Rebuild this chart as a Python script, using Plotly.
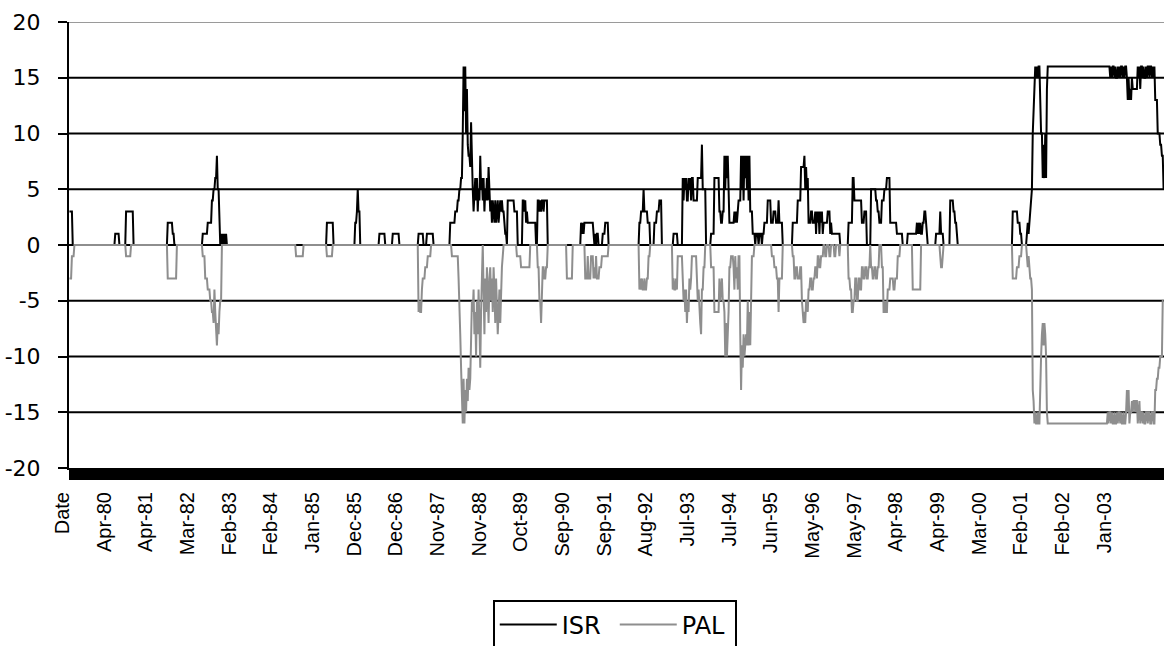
import plotly.graph_objects as go

# Category axis: header cell followed by weekly observations
TICK_LABELS = [
    "Date", "Apr-80", "Apr-81", "Mar-82", "Feb-83", "Feb-84", "Jan-85", "Dec-85",
    "Dec-86", "Nov-87", "Nov-88", "Oct-89", "Sep-90", "Sep-91", "Aug-92", "Jul-93",
    "Jul-94", "Jun-95", "May-96", "May-97", "Apr-98", "Apr-99", "Mar-00", "Feb-01",
    "Feb-02", "Jan-03",
]
LABEL_STEP = 50          # one axis label every 50 weeks
N_WEEKS = 1314           # number of weekly categories

Y_TICKS = [-20, -15, -10, -5, 0, 5, 10, 15, 20]
Y_TICK_LABELS = ["-20", "-15", "-10", "-5", "0", "5", "10", "15", "20"]

# Weekly series stored as (week index, new value) change points
ISR_CHANGES = [
    (0, 3), (4, 0),
    (55, 1), (60, 0),
    (68, 3), (77, 0),
    (118, 2), (124, 1), (126, 0),
    (160, 1), (166, 2), (171, 4), (173, 5), (175, 6), (177, 8), (178, 5), (180, 1), (181, 0),
    (182, 1), (183, 0), (184, 1), (185, 0), (186, 1), (187, 0), (188, 1), (189, 0),
    (309, 2), (317, 0),
    (343, 2), (345, 3), (346, 5), (347, 3), (349, 0),
    (372, 1), (379, 0),
    (388, 1), (396, 0),
    (419, 1), (425, 0), (429, 1), (437, 0),
    (457, 2), (463, 3), (466, 4), (468, 5), (470, 6), (472, 10), (473, 16), (474, 12),
    (475, 16), (476, 10), (477, 14), (478, 9), (479, 8), (481, 7), (482, 11), (483, 7),
    (484, 5), (485, 3), (486, 5), (487, 6), (488, 4), (489, 6), (490, 3), (491, 5),
    (492, 4), (493, 8), (494, 5), (495, 6), (496, 4), (497, 6), (498, 3), (499, 5),
    (500, 4), (501, 6), (502, 4), (503, 7), (504, 5), (505, 3), (506, 4), (507, 2),
    (508, 4), (509, 3), (510, 2), (511, 4), (512, 2), (513, 3), (514, 4), (515, 2),
    (516, 3), (517, 4), (518, 3), (519, 4), (520, 3), (522, 2), (523, 1), (525, 0),
    (526, 4), (534, 3), (538, 0),
    (544, 4), (546, 3), (547, 4), (548, 2), (549, 3), (550, 2), (560, 0),
    (562, 4), (564, 3), (565, 4), (566, 3), (567, 4), (569, 3), (570, 4), (574, 0),
    (614, 2), (615, 1), (616, 2), (617, 1), (618, 2), (629, 1), (630, 0), (631, 1),
    (632, 0), (633, 1), (635, 0),
    (640, 1), (643, 2), (647, 0),
    (684, 2), (686, 3), (689, 5), (690, 3), (694, 2), (697, 0),
    (702, 2), (705, 3), (708, 4), (711, 0),
    (725, 1), (730, 0),
    (736, 6), (737, 4), (738, 6), (739, 5), (740, 6), (741, 4), (743, 6), (744, 5),
    (745, 6), (746, 4), (747, 6), (749, 4), (754, 6), (759, 9), (760, 5), (764, 0),
    (770, 1), (774, 6), (780, 3), (782, 2), (784, 3), (786, 8), (787, 5), (788, 8),
    (789, 6), (790, 8), (791, 5), (792, 2), (798, 3), (799, 2), (800, 3), (801, 2),
    (802, 3), (803, 4), (806, 8), (807, 5), (808, 8), (809, 4), (810, 8), (811, 6),
    (812, 8), (813, 5), (814, 8), (815, 4), (816, 8), (817, 3), (820, 1), (823, 0),
    (824, 1), (827, 0), (828, 1), (831, 0), (832, 1), (834, 2), (838, 4), (842, 2),
    (845, 3), (848, 2), (851, 4), (852, 2), (856, 0),
    (868, 2), (874, 4), (878, 7), (882, 8), (883, 5), (884, 7), (885, 5), (886, 6),
    (887, 2), (890, 3), (892, 2), (895, 3), (896, 1), (897, 3), (898, 2), (899, 3),
    (900, 1), (901, 3), (902, 2), (903, 3), (904, 1), (905, 2), (910, 3), (913, 1),
    (914, 2), (915, 1), (925, 0),
    (935, 2), (940, 6), (942, 4), (951, 2), (954, 3), (957, 0),
    (962, 5), (968, 4), (970, 3), (972, 2), (975, 4), (978, 5), (981, 6), (985, 2),
    (993, 1), (1000, 0),
    (1006, 1), (1017, 2), (1018, 1), (1019, 2), (1020, 1), (1021, 2), (1022, 1),
    (1024, 2), (1026, 3), (1028, 2), (1029, 1), (1030, 0),
    (1040, 1), (1045, 3), (1046, 1), (1049, 0),
    (1057, 4), (1061, 3), (1063, 2), (1065, 1), (1066, 0),
    (1132, 3), (1138, 2), (1141, 1), (1143, 0),
    (1149, 1), (1150, 2), (1151, 1), (1152, 2), (1153, 3), (1154, 4), (1155, 5),
    (1156, 10), (1157, 13), (1158, 14), (1159, 16), (1160, 15), (1161, 16), (1162, 15),
    (1163, 16), (1165, 13), (1166, 10), (1168, 6), (1169, 9), (1170, 6), (1171, 10),
    (1172, 6), (1173, 14), (1174, 16),
    (1249, 15), (1250, 16), (1251, 15), (1252, 16), (1254, 15), (1255, 16), (1256, 15),
    (1258, 16), (1259, 15), (1260, 16), (1261, 15), (1262, 16), (1264, 15), (1265, 16),
    (1266, 15), (1267, 16), (1269, 15), (1270, 13), (1271, 15), (1272, 13), (1273, 14),
    (1274, 13), (1275, 15), (1276, 14), (1282, 16), (1283, 15), (1284, 16), (1285, 14),
    (1286, 16), (1288, 15), (1289, 16), (1290, 15), (1292, 16), (1293, 15), (1294, 16),
    (1296, 15), (1297, 16), (1299, 15), (1300, 16), (1301, 15), (1302, 16), (1303, 13),
    (1306, 10), (1309, 9), (1311, 8), (1313, 5),
]

PAL_CHANGES = [
    (0, -3), (3, -1), (6, 0),
    (68, -1), (74, 0),
    (118, -3), (129, 0),
    (160, -1), (163, -3), (166, -4), (169, -5), (171, -6), (173, -7), (174, -4),
    (175, -6), (176, -8), (177, -9), (178, -7), (179, -8), (180, -6), (181, -5), (183, 0),
    (272, -1), (281, 0),
    (309, -1), (316, 0),
    (419, -6), (420, -5), (421, -6), (423, -4), (424, -3), (427, -2), (430, -1), (434, 0),
    (459, -1), (467, -3), (468, -5), (469, -8), (470, -11), (471, -14), (472, -16),
    (473, -12), (474, -16), (475, -13), (476, -15), (477, -12), (478, -14), (479, -11),
    (480, -13), (481, -12), (482, -8), (483, -5), (484, -6), (485, -4), (486, -8),
    (487, -6), (488, -10), (489, -5), (490, -8), (491, -4), (492, -7), (493, -11),
    (494, -6), (495, -3), (496, 0), (497, -4), (498, -8), (499, -3), (500, -6),
    (501, -2), (502, -5), (503, -7), (504, -3), (505, -2), (506, -5), (507, -3),
    (508, -6), (509, -2), (510, -4), (511, -7), (512, -3), (513, -5), (514, -8),
    (515, -6), (516, -4), (517, -7), (518, -3), (519, -2), (520, -1), (521, 0),
    (537, -1), (542, -2), (553, 0), (562, -2), (564, -5), (566, -7), (567, -4),
    (568, -2), (570, -3), (572, -2), (574, 0),
    (597, -3), (604, 0),
    (619, -3), (622, -1), (623, -3), (626, -1), (629, -3), (630, -2), (631, -3),
    (632, -1), (633, -3), (636, -2), (639, -1), (647, 0),
    (684, -4), (685, -3), (686, -4), (687, -3), (688, -4), (690, -3), (691, -4),
    (693, -3), (695, -1), (697, 0),
    (724, -4), (725, -3), (726, -4), (728, -3), (729, -4), (730, -1), (736, -3),
    (737, -5), (738, -4), (739, -6), (740, -4), (741, -7), (742, -5), (743, -6),
    (744, -3), (745, -4), (746, -3), (747, -1), (753, -3), (754, -5), (755, -4),
    (756, -6), (757, -7), (758, -8), (759, -4), (761, -2), (763, 0),
    (770, -2), (774, -6), (780, -3), (781, -5), (782, -4), (783, -3), (784, -5),
    (786, -6), (787, -10), (788, -7), (789, -10), (790, -8), (791, -6), (792, -2),
    (794, -1), (797, -2), (798, -4), (799, -1), (800, -3), (801, -2), (802, -4),
    (803, -1), (805, -8), (806, -13), (807, -9), (808, -11), (809, -8), (810, -10),
    (811, -9), (812, -8), (813, -9), (814, -5), (815, -9), (816, -6), (817, -9),
    (818, -5), (819, -1), (822, 0),
    (843, -1), (846, -2), (849, -3), (851, -6), (852, -3), (856, 0),
    (868, -1), (870, -3), (872, -2), (874, -3), (877, -2), (879, -5), (880, -6),
    (881, -7), (882, -6), (883, -7), (884, -5), (886, -6), (887, -4), (889, -3),
    (891, -4), (893, -3), (895, -2), (897, -3), (898, -1), (900, -2), (902, -1),
    (905, 0), (907, -1), (909, 0), (912, -1), (914, 0), (918, -1), (920, 0),
    (924, -1), (925, 0),
    (935, -3), (937, -4), (939, -6), (941, -5), (943, -3), (945, -5), (947, -3),
    (949, -4), (951, -2), (953, -3), (955, -2), (957, -3), (959, -2), (961, 0),
    (962, -2), (964, -3), (966, -2), (968, -3), (970, -2), (972, 0), (975, -2),
    (977, -6), (979, -5), (980, -6), (982, -4), (985, -3), (989, -4), (991, -3),
    (994, -1), (997, 0),
    (1012, -4), (1022, 0),
    (1045, -1), (1046, -2), (1048, -1), (1049, 0),
    (1132, -3), (1137, -2), (1140, -1), (1143, 0),
    (1149, -1), (1150, -2), (1151, -1), (1152, -2), (1153, -3), (1155, -4),
    (1156, -13), (1157, -14), (1158, -16), (1159, -15), (1160, -16), (1162, -15),
    (1163, -16), (1165, -12), (1166, -10), (1167, -8), (1168, -7), (1169, -9),
    (1170, -7), (1171, -8), (1172, -10), (1173, -15), (1174, -16),
    (1246, -15), (1247, -16), (1248, -15), (1250, -16), (1251, -15), (1252, -16),
    (1254, -15), (1255, -16), (1257, -15), (1258, -16), (1259, -15), (1261, -16),
    (1262, -15), (1263, -16), (1265, -15), (1266, -16), (1268, -15), (1269, -13),
    (1270, -15), (1271, -13), (1272, -16), (1273, -15), (1275, -14), (1276, -15),
    (1277, -14), (1279, -15), (1280, -14), (1282, -16), (1283, -15), (1284, -14),
    (1285, -16), (1286, -15), (1288, -16), (1289, -15), (1290, -16), (1292, -15),
    (1294, -16), (1295, -15), (1297, -16), (1299, -15), (1301, -16), (1303, -13),
    (1305, -12), (1307, -11), (1309, -10), (1312, -5),
]


def expand(changes, n):
    """Turn change points into one value per week (held until the next change)."""
    values, current, j = [], 0, 0
    for week in range(n):
        while j < len(changes) and changes[j][0] <= week:
            current = changes[j][1]
            j += 1
        values.append(current)
    return values


weeks = list(range(N_WEEKS))
isr = expand(ISR_CHANGES, N_WEEKS)
pal = expand(PAL_CHANGES, N_WEEKS)

fig = go.Figure()
fig.add_trace(go.Scatter(x=weeks, y=isr, mode="lines", name="ISR",
                         line=dict(color="#000000", width=2)))
fig.add_trace(go.Scatter(x=weeks, y=pal, mode="lines", name="PAL",
                         line=dict(color="#8e8e8e", width=2)))

# horizontal gridlines: black inside, grey at the top edge
shapes = []
for v in Y_TICKS[1:-1]:
    shapes.append(dict(type="line", xref="paper", yref="y", x0=0, x1=1, y0=v, y1=v,
                       line=dict(color="#000000", width=2), layer="below"))
shapes.append(dict(type="line", xref="paper", yref="y", x0=0, x1=1, y0=20, y1=20,
                   line=dict(color="#9a9a9a", width=2), layer="below"))

fig.update_layout(
    width=1164, height=646,
    margin=dict(l=69, r=0, t=22, b=178, autoexpand=False),
    paper_bgcolor="white", plot_bgcolor="white",
    shapes=shapes,
    showlegend=True,
    legend=dict(orientation="h", x=0.387, y=-0.297, xanchor="left", yanchor="top",
                bordercolor="#000000", borderwidth=2, bgcolor="white",
                font=dict(family="DejaVu Sans", size=24, color="#000000"),
                itemwidth=57,
                entrywidth=48, entrywidthmode="pixels"),
    xaxis=dict(
        range=[-0.5, N_WEEKS - 0.5],
        automargin=False,
        tickmode="array",
        tickvals=[k * LABEL_STEP for k in range(len(TICK_LABELS))],
        ticktext=TICK_LABELS,
        tickangle=-90,
        ticklabelshift=-7,
        ticklabelstandoff=4,
        ticks="outside", ticklen=10, tickwidth=1, tickcolor="#000000",
        minor=dict(ticks="outside", tickmode="linear", tick0=0, dtick=1,
                   ticklen=10, tickwidth=1, tickcolor="#000000", showgrid=False),
        showline=True, linecolor="#000000", linewidth=2,
        showgrid=False, zeroline=False,
        tickfont=dict(family="Liberation Sans Narrow, Liberation Sans", size=20,
                      color="#000000"),
    ),
    yaxis=dict(
        range=[-20, 20],
        automargin=False,
        tickmode="array", tickvals=Y_TICKS, ticktext=Y_TICK_LABELS,
        ticks="outside", ticklen=9, tickwidth=2, tickcolor="#000000",
        showline=True, linecolor="#000000", linewidth=2,
        showgrid=False, zeroline=False,
        ticklabelstandoff=13,
        tickfont=dict(family="DejaVu Sans", size=22, color="#000000"),
    ),
)

fig.write_html("out.html")
